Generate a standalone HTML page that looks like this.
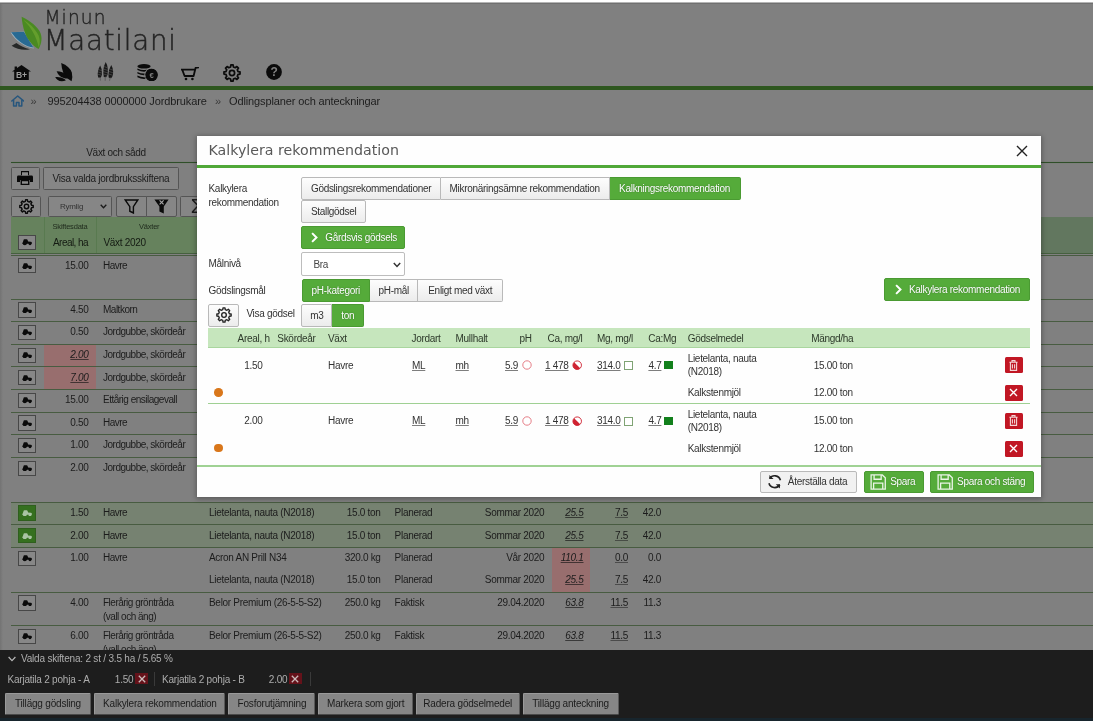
<!DOCTYPE html><html lang="sv"><head><meta charset="utf-8"><title>Minun Maatilani - Odlingsplaner och anteckningar</title><style>
html,body{margin:0;padding:0}
body{width:1093px;height:721px;overflow:hidden;position:relative;background:#808080;
 font-family:"Liberation Sans",sans-serif;font-size:10px;letter-spacing:-0.3px;color:#1c1c1c;line-height:13px}
*{box-sizing:border-box}
button{font:inherit;letter-spacing:inherit;margin:0;padding:0}
.abs{position:absolute}
svg.ic{display:block}
#topstrip{position:absolute;left:0;top:0;width:1093px;height:4px;background:linear-gradient(#fff 0,#fff 2px,#b4b4b4 2.5px,#6c6c6c 3px,#747474 4px)}
#ledge{position:absolute;left:0;top:4px;width:2.5px;height:646px;background:linear-gradient(90deg,#737373,#808080)}
#logo{position:absolute;left:0;top:0;width:200px;height:60px}
#logo .t1{position:absolute;left:44.4px;top:6.9px;font-family:"DejaVu Sans","Liberation Sans",sans-serif;font-weight:200;font-size:18.6px;line-height:22px;letter-spacing:1.15px;color:#242424;-webkit-text-stroke:0.35px #242424}
#logo .t2{position:absolute;left:43.7px;top:24.9px;font-family:"DejaVu Sans","Liberation Sans",sans-serif;font-weight:200;font-size:27.6px;line-height:32px;letter-spacing:.8px;color:#242424;-webkit-text-stroke:0.45px #242424}
#mainnav{position:absolute;left:0;top:60px;width:300px;height:24px}
#mainnav a{position:absolute;display:block}
#gline{position:absolute;left:0;top:86.4px;width:1093px;height:3.2px;background:#2e571f}
#crumbs{position:absolute;left:0;top:94px;height:14px;width:600px;font-size:11px;line-height:14px;letter-spacing:-0.12px;color:#1d1d1d;white-space:nowrap}
#crumbs span,#crumbs a{position:absolute;top:0}
#tabline{position:absolute;left:11px;top:162px;width:1082px;height:1px;background:#2f4f29;box-shadow:0 0 1px rgba(70,110,60,.6)}
#tab1{position:absolute;left:11px;top:146px;width:186px;height:16px;text-align:center;line-height:14px;font-size:10px;letter-spacing:-0.3px;padding-left:24px}
.bbtn{position:absolute;background:#868686;border:1px solid #555;border-radius:1.5px;color:#1c1c1c;display:flex;align-items:center;justify-content:center;white-space:nowrap}
#ghead{position:absolute;left:11px;top:217.3px;width:1082px;height:37.2px;background:linear-gradient(90deg,#66825d 0,#66825d 300px,#62775f 300px);border-bottom:1px solid #46603f}
#ghead .vl{position:absolute;top:0;width:1px;height:36px;background:#597a50}
#ghead .sm{position:absolute;top:4.6px;font-size:7.5px;line-height:10px;letter-spacing:-0.2px;color:#1f2a1c;text-align:center}
#ghead .lb{position:absolute;top:18.5px;line-height:13px;color:#141a12}
.row{position:absolute;left:11px;width:1082px;border-top:1px solid #485c41}
.row.sel{background:#768271}
.row span.c{position:absolute;white-space:nowrap;line-height:13px}
.row .pink{position:absolute;background:#986e6e}
.trb{position:absolute;left:7px;top:2.8px;width:17.6px;height:15.2px;border:1px solid #474747;background:#878787;display:flex;align-items:center;justify-content:center}
.trb.sel{background:#35701f;border-color:#2f5f1e}
.it{font-style:italic;text-decoration:underline;text-decoration-thickness:1px;text-decoration-color:rgba(20,20,20,.65);text-underline-offset:1px}
.ul{text-decoration:underline;text-decoration-thickness:1px;text-decoration-color:rgba(40,40,40,.6)}
#bbar{position:absolute;left:0;top:650.2px;width:1093px;height:71px;background:#1d1d1d;color:#adadad}
#bbar .strip{position:absolute;left:0;top:67.5px;width:1093px;height:4px;background:#17252d}
#bbar .l1{position:absolute;left:21px;top:2px;line-height:13px;white-space:nowrap;letter-spacing:-0.2px}
#bbar span.c{position:absolute;white-space:nowrap;line-height:13px;top:22.5px;letter-spacing:-0.22px}
#bbar .xb{position:absolute;top:22.6px;width:12.6px;height:11.6px;background:#65121a;display:flex;align-items:center;justify-content:center}
#bbar .sep{position:absolute;top:21.5px;width:1px;height:14px;background:#3a3a3a}
#bbar .bbtn{top:42.4px;height:22.8px;background:#868686;border-color:#9a9a9a #5a5a5a #4a4a4a #9a9a9a}
/* modal */
#shadow{position:absolute;left:197px;top:136px;width:844px;height:361px;box-shadow:0 1px 5px 1px rgba(0,0,0,.3)}
#modal{position:absolute;left:197px;top:136px;width:844px;height:361px;background:#fefefe;color:#333}
#modal h2{position:absolute;left:11.5px;top:5px;margin:0;font-family:"DejaVu Sans","Liberation Sans",sans-serif;font-weight:400;font-size:14.2px;line-height:18px;letter-spacing:0;color:#585858;white-space:nowrap}
#mline{position:absolute;left:0;top:29px;width:844px;height:3px;background:#50a838}
#mclose{position:absolute;left:819.2px;top:9px;width:12px;height:12px}
.lbl{position:absolute;left:11.5px;white-space:nowrap;line-height:13.4px}
.mb{position:absolute;height:22.4px;border:1px solid #b9b9b9;background:linear-gradient(#fdfdfd,#ececec);color:#333;display:flex;align-items:center;justify-content:center;white-space:nowrap;border-radius:2px}
.mb.g{background:#55ab3a;border-color:#4a9a32;color:#fff;text-shadow:0 0 1.5px rgba(0,40,0,.45)}
.mb.l{border-radius:2px 0 0 2px}
.mb.m{border-radius:0;border-left:0}
.mb.r{border-radius:0 2px 2px 0;border-left:0}
#msel{position:absolute;left:104.4px;top:116.4px;width:104px;height:23.2px;border:1px solid #bdbdbd;border-radius:2px;background:#fff}
#mth{position:absolute;left:11px;top:192px;width:822px;height:20px;background:#c6e6bd;border-bottom:1px solid #a9d69e}
#mth span{position:absolute;top:3.6px;line-height:13px;white-space:nowrap;color:#2e3a2b}
.mrow{position:absolute;left:11px;width:822px}
.mrow span.c{position:absolute;white-space:nowrap;line-height:13px}
.mrow .dot{position:absolute;left:6.4px;width:8.6px;height:8.6px;border-radius:50%;background:#d9771b}
.rb{position:absolute;left:796.6px;width:18.4px;height:16px;background:#c11724;border-radius:1.5px;display:flex;align-items:center;justify-content:center}
.msep{position:absolute;height:1px;background:#9fd093}
.ind{position:absolute}
</style></head><body>
<div id="topstrip"></div><div id="ledge"></div>
<div id="logo">
<svg class="abs" style="left:9px;top:14px" width="36" height="40" viewBox="0 0 36 40">
 <path d="M2.6 31.8 L7.4 28.9 C11 32 16 34 21 35.2 C15 36.6 8 35.6 2.6 31.8Z" fill="#262828"/>
 <path d="M1.6 18.4 L15.4 17.6 L25 34.6 C17 33.4 8.6 28.4 3.6 21.6Z" fill="#9fb4bf"/>
 <path d="M2.2 18.3 L15 17.8 L24.4 33.6 C17 32.6 9.4 27.8 4.6 21.2Z" fill="#286a93"/>
 <path d="M12.6 2.7 C18 5 26 10 30.5 17 C34 23 32.5 30 29.6 34.9 C24 32 18.5 26 16 19 C13.8 13 13 7 12.6 2.7Z" fill="#4a8a22"/>
 <path d="M14 5.4 C22 13 27.4 22 29.8 33.8 C31.2 29 31 25 29.6 21.4 C26 14 20 9 14 5.4Z" fill="#6aa330" opacity=".8"/>
</svg>
<div class="t1">Minun</div><div class="t2">Maatilani</div></div>
<nav id="mainnav">
<a style="left:12px;top:5px"><svg class="ic" width="19" height="15.2" viewBox="0 0 19 15.2"><path d="M9.5 0 L19 6.6 L16.8 6.6 L16.8 15.2 L2.2 15.2 L2.2 6.6 L0 6.6 L2.6 4.8 L2.6 1.6 L5 1.6 L5 3.1 Z" fill="#0b0b0b"/><text x="9.3" y="13" font-family="Liberation Sans, sans-serif" font-weight="bold" font-size="8.6" letter-spacing="-0.4" text-anchor="middle" fill="#9c9c9c">B+</text></svg></a>
<a style="left:54.6px;top:3.4px"><svg class="ic" width="18" height="18.6" viewBox="0 0 18 18.6"><path d="M6.2 0 Q14.8 3.4 16.8 9.6 Q17.9 13.6 16.6 18.2 Q10.4 14.8 8.2 9.4 Q6.6 5.2 6.2 0Z" fill="#0b0b0b"/><path d="M1.6 8.2 Q8 8.4 11.4 12.2 Q12.6 13.8 13 15.6 Q7.4 15.6 4.6 12.8 Q2.6 10.8 1.6 8.2Z" fill="#0b0b0b"/><path d="M0.2 14 Q5.4 13.4 9 15.8 Q10.2 16.6 10.8 17.6 Q5.6 19.4 2.4 16.8 Q1 15.6 0.2 14Z" fill="#0b0b0b"/></svg></a>
<a style="left:97px;top:2.4px"><svg class="ic" width="17" height="19" viewBox="0 0 17 19"><g fill="#181818"><path d="M3.2 3.6 Q5.6 8 4.8 13.6 L3.6 15.8 L1.2 15.4 Q-.4 9 3.2 3.6Z"/><path d="M8.7 0 Q11.6 5 10.6 12.8 L9.2 15.2 L6.8 15 Q5.2 7 8.7 0Z"/><path d="M14.3 3 Q17.2 8 15.6 14 L14.2 16.2 L11.8 15.8 Q10.6 9 14.3 3Z"/></g><g stroke="#555" stroke-width=".8" fill="none"><path d="M3 15 L3.4 18.6"/><path d="M8.2 14.6 L8.2 18.8"/><path d="M13.2 15.4 L12.6 18.8"/></g><g stroke="#707070" stroke-width=".45"><path d="M1.2 7.4 L5 8.8 M.8 9.8 L5 11.2 M.9 12.2 L4.8 13.4 M6.6 4.4 L10.6 5.8 M6.2 7 L10.8 8.4 M6.2 9.6 L10.8 10.8 M6.4 12 L10.6 13.2 M12.2 6.8 L16 8.2 M11.8 9.4 L16 10.8 M11.8 12 L15.6 13.2"/></g></svg></a>
<a style="left:137px;top:3.6px"><svg class="ic" width="21" height="17.4" viewBox="0 0 21 17.4"><g fill="#0b0b0b"><ellipse cx="7" cy="2.3" rx="6.6" ry="2.3"/><path d="M.4 4.4 Q7 7.6 13.6 4.4 L13.6 6 Q7 9.4 .4 6Z"/><path d="M.4 8 Q7 11.2 13.6 8 L13.6 9.6 Q7 13 .4 9.6Z"/><path d="M.4 11.6 Q7 14.8 13.6 11.6 L13.6 13.2 Q7 16.6 .4 13.2Z"/><circle cx="14.6" cy="11" r="6.4"/></g><circle cx="14.6" cy="11" r="6.9" fill="none" stroke="#808080" stroke-width=".9" /><text x="14.6" y="13.8" font-family="Liberation Sans, sans-serif" font-weight="bold" font-size="7.8" text-anchor="middle" fill="#7c7c7c">€</text></svg></a>
<a style="left:181px;top:6.6px"><svg class="ic" width="18" height="14" viewBox="0 0 18 14"><path d="M.6 2.6 L13.6 2.6 M1.2 2.6 L3.6 9 L12.6 9 L14.6 .8 L17.6 .4" fill="none" stroke="#0b0b0b" stroke-width="1.8" stroke-linejoin="round" stroke-linecap="round"/><circle cx="5" cy="12" r="1.3" fill="#0b0b0b"/><circle cx="11.4" cy="12" r="1.3" fill="#0b0b0b"/></svg></a>
<a style="left:222.8px;top:4px"><svg class="ic" width="18" height="18" viewBox="0 0 20 20"><path d="M18.92 8.77 L18.92 11.23 L16.72 11.54 L15.85 13.66 L17.18 15.43 L15.43 17.18 L13.66 15.85 L11.54 16.72 L11.23 18.92 L8.77 18.92 L8.46 16.72 L6.34 15.85 L4.57 17.18 L2.82 15.43 L4.15 13.66 L3.28 11.54 L1.08 11.23 L1.08 8.77 L3.28 8.46 L4.15 6.34 L2.82 4.57 L4.57 2.82 L6.34 4.15 L8.46 3.28 L8.77 1.08 L11.23 1.08 L11.54 3.28 L13.66 4.15 L15.43 2.82 L17.18 4.57 L15.85 6.34 L16.72 8.46Z" fill="none" stroke="#0b0b0b" stroke-width="1.9" stroke-linejoin="round"/><circle cx="10" cy="10" r="2.9" fill="none" stroke="#0b0b0b" stroke-width="1.9"/></svg></a>
<a style="left:266px;top:4.4px"><svg class="ic" width="16" height="16" viewBox="0 0 16 16"><circle cx="8" cy="8" r="7.9" fill="#0b0b0b"/><text x="8" y="12.4" font-family="Liberation Sans, sans-serif" font-weight="bold" font-size="12" text-anchor="middle" fill="#808080">?</text></svg></a>
</nav>
<div id="gline"></div>
<div id="crumbs">
<a style="left:11px;top:.5px"><svg class="ic" width="13.4" height="12" viewBox="0 0 13.4 12"><path d="M.8 6 L6.7 1 L12.6 6 M2.6 5.2 L2.6 11 L5.4 11 L5.4 7.6 L8 7.6 L8 11 L10.8 11 L10.8 5.2" fill="none" stroke="#27567d" stroke-width="1.5" stroke-linejoin="round" stroke-linecap="round"/></svg></a>
<span style="left:30.5px;color:#3a3a3a">»</span>
<span style="left:47.5px">995204438 0000000 Jordbrukare</span>
<span style="left:215px;color:#3a3a3a">»</span>
<span style="left:229px">Odlingsplaner och anteckningar</span>
</div>
<div id="tab1">Växt och sådd</div><div id="tabline"></div>
<button class="bbtn" style="left:11.4px;top:166.6px;width:28.8px;height:23px"><svg class="ic" width="16" height="14" viewBox="0 0 16 14" style="margin-left:-1px"><path d="M4 0 H12 V4 H4Z M1.4 4.6 H14.6 Q16 4.6 16 6 V11 H13 V9 H3 V11 H0 V6 Q0 4.6 1.4 4.6Z" fill="#0a0a0a"/><path d="M3.6 8.6 H12.4 V14 H3.6Z" fill="#0a0a0a"/><path d="M5 1.2 H11 V4.6 H5Z M5 10.2 H11 V12.8 H5Z" fill="#8c8c8c"/></svg></button>
<button class="bbtn" style="left:43.4px;top:166.6px;width:135.2px;height:23px;font-family:inherit;font-size:10px;letter-spacing:-0.27px">Visa valda jordbruksskiftena</button>
<button class="bbtn" style="left:11.4px;top:196.2px;width:29.8px;height:20.4px"><svg class="ic" width="15" height="15" viewBox="0 0 20 20"><path d="M18.92 8.77 L18.92 11.23 L16.72 11.54 L15.85 13.66 L17.18 15.43 L15.43 17.18 L13.66 15.85 L11.54 16.72 L11.23 18.92 L8.77 18.92 L8.46 16.72 L6.34 15.85 L4.57 17.18 L2.82 15.43 L4.15 13.66 L3.28 11.54 L1.08 11.23 L1.08 8.77 L3.28 8.46 L4.15 6.34 L2.82 4.57 L4.57 2.82 L6.34 4.15 L8.46 3.28 L8.77 1.08 L11.23 1.08 L11.54 3.28 L13.66 4.15 L15.43 2.82 L17.18 4.57 L15.85 6.34 L16.72 8.46Z" fill="none" stroke="#0a0a0a" stroke-width="1.9" stroke-linejoin="round"/><circle cx="10" cy="10" r="2.9" fill="none" stroke="#0a0a0a" stroke-width="1.9"/></svg></button>
<div class="bbtn" style="left:48.4px;top:196.2px;width:63.2px;height:20.4px;justify-content:flex-start;padding-left:10.5px;font-size:8px;letter-spacing:-0.2px;color:#333">Rymlig<svg class="abs" style="left:51px;top:6.4px" width="7" height="5" viewBox="0 0 7 5"><path d="M.7 .8 L3.5 3.8 L6.3 .8" fill="none" stroke="#1a1a1a" stroke-width="1.3"/></svg></div>
<button class="bbtn" style="left:116px;top:196.2px;width:30.6px;height:20.4px;border-radius:2px 0 0 2px"><svg class="ic" width="15" height="15" viewBox="0 0 15 15"><path d="M1.2 1 H13.8 L9.4 7.6 V14 L5.8 12.2 V7.6 Z" fill="none" stroke="#0a0a0a" stroke-width="1.4" stroke-linejoin="miter"/></svg></button>
<button class="bbtn" style="left:145.6px;top:196.2px;width:31px;height:20.4px;border-radius:0 2px 2px 0"><svg class="ic" width="15" height="15" viewBox="0 0 15 15"><path d="M.4 .4 H14.6 L9.8 7.6 V14.6 L5.4 12.4 V7.6 Z" fill="#0a0a0a"/><path d="M5.6 1.4 L9.6 5.4 M9.6 1.4 L5.6 5.4" stroke="#a8a8a8" stroke-width="1.1"/></svg></button>
<button class="bbtn" style="left:180.4px;top:196.2px;width:33px;height:20.4px;font-family:inherit;font-size:20px;letter-spacing:0;line-height:18px;padding:0">Σ</button>
<div id="ghead">
<i class="vl" style="left:32.6px"></i><i class="vl" style="left:85.4px"></i>
<span class="trb" style="left:7px;top:17.6px;height:15.4px"><svg class="ic" width="10.4" height="6.4" viewBox="0 0 20.8 12.8"><path d="M2 6.4 L3.2 1.6 Q3.5 .4 4.8 .4 L9.4 .4 Q10.6 .4 11 1.6 L12.2 5 L17.6 5.6 Q19.8 6 19.8 7.8 L19.8 9.6 L1 9.6 L1 7.4 Q1 6.4 2 6.4Z" fill="#0a0a0a"/><circle cx="5.6" cy="8.4" r="4.2" fill="#0a0a0a"/><circle cx="16" cy="9.6" r="3" fill="#0a0a0a"/></svg></span>
<span class="sm" style="left:33px;width:52px">Skiftesdata</span>
<span class="sm" style="left:88.2px;width:100px">Växter</span>
<span class="lb" style="left:42px;letter-spacing:-0.55px">Areal, ha</span>
<span class="lb" style="left:92.4px">Växt 2020</span>
</div>
<div class="row" style="top:254.5px;height:44.1px">
<span class="trb"><svg class="ic" width="10.4" height="6.4" viewBox="0 0 20.8 12.8"><path d="M2 6.4 L3.2 1.6 Q3.5 .4 4.8 .4 L9.4 .4 Q10.6 .4 11 1.6 L12.2 5 L17.6 5.6 Q19.8 6 19.8 7.8 L19.8 9.6 L1 9.6 L1 7.4 Q1 6.4 2 6.4Z" fill="#0a0a0a"/><circle cx="5.6" cy="8.4" r="4.2" fill="#0a0a0a"/><circle cx="16" cy="9.6" r="3" fill="#0a0a0a"/></svg></span>
<span class="c" style="right:1004.4px;top:3.2px">15.00</span><span class="c" style="left:92px;top:3.2px;letter-spacing:-0.5px">Havre</span>
</div>
<div class="row" style="top:298.6px;height:22.6px">
<span class="trb"><svg class="ic" width="10.4" height="6.4" viewBox="0 0 20.8 12.8"><path d="M2 6.4 L3.2 1.6 Q3.5 .4 4.8 .4 L9.4 .4 Q10.6 .4 11 1.6 L12.2 5 L17.6 5.6 Q19.8 6 19.8 7.8 L19.8 9.6 L1 9.6 L1 7.4 Q1 6.4 2 6.4Z" fill="#0a0a0a"/><circle cx="5.6" cy="8.4" r="4.2" fill="#0a0a0a"/><circle cx="16" cy="9.6" r="3" fill="#0a0a0a"/></svg></span>
<span class="c" style="right:1004.4px;top:3.2px">4.50</span><span class="c" style="left:92px;top:3.2px;letter-spacing:-0.5px">Maltkorn</span>
</div>
<div class="row" style="top:321.2px;height:22.6px">
<span class="trb"><svg class="ic" width="10.4" height="6.4" viewBox="0 0 20.8 12.8"><path d="M2 6.4 L3.2 1.6 Q3.5 .4 4.8 .4 L9.4 .4 Q10.6 .4 11 1.6 L12.2 5 L17.6 5.6 Q19.8 6 19.8 7.8 L19.8 9.6 L1 9.6 L1 7.4 Q1 6.4 2 6.4Z" fill="#0a0a0a"/><circle cx="5.6" cy="8.4" r="4.2" fill="#0a0a0a"/><circle cx="16" cy="9.6" r="3" fill="#0a0a0a"/></svg></span>
<span class="c" style="right:1004.4px;top:3.2px">0.50</span><span class="c" style="left:92px;top:3.2px;letter-spacing:-0.5px">Jordgubbe, skördeår</span>
</div>
<div class="row" style="top:343.8px;height:22.6px">
<span class="trb"><svg class="ic" width="10.4" height="6.4" viewBox="0 0 20.8 12.8"><path d="M2 6.4 L3.2 1.6 Q3.5 .4 4.8 .4 L9.4 .4 Q10.6 .4 11 1.6 L12.2 5 L17.6 5.6 Q19.8 6 19.8 7.8 L19.8 9.6 L1 9.6 L1 7.4 Q1 6.4 2 6.4Z" fill="#0a0a0a"/><circle cx="5.6" cy="8.4" r="4.2" fill="#0a0a0a"/><circle cx="16" cy="9.6" r="3" fill="#0a0a0a"/></svg></span>
<i class="pink" style="left:32.6px;top:0;width:52.6px;height:100%"></i><span class="c it" style="right:1004.4px;top:3.2px">2.00</span><span class="c" style="left:92px;top:3.2px;letter-spacing:-0.5px">Jordgubbe, skördeår</span>
</div>
<div class="row" style="top:366.4px;height:22.6px">
<span class="trb"><svg class="ic" width="10.4" height="6.4" viewBox="0 0 20.8 12.8"><path d="M2 6.4 L3.2 1.6 Q3.5 .4 4.8 .4 L9.4 .4 Q10.6 .4 11 1.6 L12.2 5 L17.6 5.6 Q19.8 6 19.8 7.8 L19.8 9.6 L1 9.6 L1 7.4 Q1 6.4 2 6.4Z" fill="#0a0a0a"/><circle cx="5.6" cy="8.4" r="4.2" fill="#0a0a0a"/><circle cx="16" cy="9.6" r="3" fill="#0a0a0a"/></svg></span>
<i class="pink" style="left:32.6px;top:0;width:52.6px;height:100%"></i><span class="c it" style="right:1004.4px;top:3.2px">7.00</span><span class="c" style="left:92px;top:3.2px;letter-spacing:-0.5px">Jordgubbe, skördeår</span>
</div>
<div class="row" style="top:389.0px;height:22.6px">
<span class="trb"><svg class="ic" width="10.4" height="6.4" viewBox="0 0 20.8 12.8"><path d="M2 6.4 L3.2 1.6 Q3.5 .4 4.8 .4 L9.4 .4 Q10.6 .4 11 1.6 L12.2 5 L17.6 5.6 Q19.8 6 19.8 7.8 L19.8 9.6 L1 9.6 L1 7.4 Q1 6.4 2 6.4Z" fill="#0a0a0a"/><circle cx="5.6" cy="8.4" r="4.2" fill="#0a0a0a"/><circle cx="16" cy="9.6" r="3" fill="#0a0a0a"/></svg></span>
<span class="c" style="right:1004.4px;top:3.2px">15.00</span><span class="c" style="left:92px;top:3.2px;letter-spacing:-0.5px">Ettårig ensilagevall</span>
</div>
<div class="row" style="top:411.6px;height:22.6px">
<span class="trb"><svg class="ic" width="10.4" height="6.4" viewBox="0 0 20.8 12.8"><path d="M2 6.4 L3.2 1.6 Q3.5 .4 4.8 .4 L9.4 .4 Q10.6 .4 11 1.6 L12.2 5 L17.6 5.6 Q19.8 6 19.8 7.8 L19.8 9.6 L1 9.6 L1 7.4 Q1 6.4 2 6.4Z" fill="#0a0a0a"/><circle cx="5.6" cy="8.4" r="4.2" fill="#0a0a0a"/><circle cx="16" cy="9.6" r="3" fill="#0a0a0a"/></svg></span>
<span class="c" style="right:1004.4px;top:3.2px">0.50</span><span class="c" style="left:92px;top:3.2px;letter-spacing:-0.5px">Havre</span>
</div>
<div class="row" style="top:434.2px;height:22.6px">
<span class="trb"><svg class="ic" width="10.4" height="6.4" viewBox="0 0 20.8 12.8"><path d="M2 6.4 L3.2 1.6 Q3.5 .4 4.8 .4 L9.4 .4 Q10.6 .4 11 1.6 L12.2 5 L17.6 5.6 Q19.8 6 19.8 7.8 L19.8 9.6 L1 9.6 L1 7.4 Q1 6.4 2 6.4Z" fill="#0a0a0a"/><circle cx="5.6" cy="8.4" r="4.2" fill="#0a0a0a"/><circle cx="16" cy="9.6" r="3" fill="#0a0a0a"/></svg></span>
<span class="c" style="right:1004.4px;top:3.2px">1.00</span><span class="c" style="left:92px;top:3.2px;letter-spacing:-0.5px">Jordgubbe, skördeår</span>
</div>
<div class="row" style="top:456.8px;height:44.8px">
<span class="trb"><svg class="ic" width="10.4" height="6.4" viewBox="0 0 20.8 12.8"><path d="M2 6.4 L3.2 1.6 Q3.5 .4 4.8 .4 L9.4 .4 Q10.6 .4 11 1.6 L12.2 5 L17.6 5.6 Q19.8 6 19.8 7.8 L19.8 9.6 L1 9.6 L1 7.4 Q1 6.4 2 6.4Z" fill="#0a0a0a"/><circle cx="5.6" cy="8.4" r="4.2" fill="#0a0a0a"/><circle cx="16" cy="9.6" r="3" fill="#0a0a0a"/></svg></span>
<span class="c" style="right:1004.4px;top:3.2px">2.00</span><span class="c" style="left:92px;top:3.2px;letter-spacing:-0.5px">Jordgubbe, skördeår</span>
</div>
<div class="row sel" style="top:501.6px;height:22.8px">
<span class="trb sel"><svg class="ic" width="10.4" height="6.4" viewBox="0 0 20.8 12.8"><path d="M2 6.4 L3.2 1.6 Q3.5 .4 4.8 .4 L9.4 .4 Q10.6 .4 11 1.6 L12.2 5 L17.6 5.6 Q19.8 6 19.8 7.8 L19.8 9.6 L1 9.6 L1 7.4 Q1 6.4 2 6.4Z" fill="#a9c4a3"/><circle cx="5.6" cy="8.4" r="4.2" fill="#a9c4a3"/><circle cx="16" cy="9.6" r="3" fill="#a9c4a3"/></svg></span>
<span class="c" style="right:1004.4px;top:3.2px">1.50</span><span class="c" style="left:92px;top:3.2px;letter-spacing:-0.5px">Havre</span><span class="c" style="left:198px;top:3.2px">Lietelanta, nauta (N2018)</span><span class="c" style="right:712.4px;top:3.2px">15.0 ton</span><span class="c" style="left:383.6px;top:3.2px">Planerad</span><span class="c" style="right:548.7px;top:3.2px">Sommar 2020</span><span class="c it" style="right:509.5px;top:3.2px">25.5</span><span class="c ul" style="right:465px;top:3.2px">7.5</span><span class="c" style="right:432px;top:3.2px">42.0</span>
</div>
<div class="row sel" style="top:524.4px;height:22.8px">
<span class="trb sel"><svg class="ic" width="10.4" height="6.4" viewBox="0 0 20.8 12.8"><path d="M2 6.4 L3.2 1.6 Q3.5 .4 4.8 .4 L9.4 .4 Q10.6 .4 11 1.6 L12.2 5 L17.6 5.6 Q19.8 6 19.8 7.8 L19.8 9.6 L1 9.6 L1 7.4 Q1 6.4 2 6.4Z" fill="#a9c4a3"/><circle cx="5.6" cy="8.4" r="4.2" fill="#a9c4a3"/><circle cx="16" cy="9.6" r="3" fill="#a9c4a3"/></svg></span>
<span class="c" style="right:1004.4px;top:3.2px">2.00</span><span class="c" style="left:92px;top:3.2px;letter-spacing:-0.5px">Havre</span><span class="c" style="left:198px;top:3.2px">Lietelanta, nauta (N2018)</span><span class="c" style="right:712.4px;top:3.2px">15.0 ton</span><span class="c" style="left:383.6px;top:3.2px">Planerad</span><span class="c" style="right:548.7px;top:3.2px">Sommar 2020</span><span class="c it" style="right:509.5px;top:3.2px">25.5</span><span class="c ul" style="right:465px;top:3.2px">7.5</span><span class="c" style="right:432px;top:3.2px">42.0</span>
</div>
<div class="row" style="top:547.2px;height:44.4px">
<span class="trb"><svg class="ic" width="10.4" height="6.4" viewBox="0 0 20.8 12.8"><path d="M2 6.4 L3.2 1.6 Q3.5 .4 4.8 .4 L9.4 .4 Q10.6 .4 11 1.6 L12.2 5 L17.6 5.6 Q19.8 6 19.8 7.8 L19.8 9.6 L1 9.6 L1 7.4 Q1 6.4 2 6.4Z" fill="#0a0a0a"/><circle cx="5.6" cy="8.4" r="4.2" fill="#0a0a0a"/><circle cx="16" cy="9.6" r="3" fill="#0a0a0a"/></svg></span>
<span class="c" style="right:1004.4px;top:3.2px">1.00</span><span class="c" style="left:92px;top:3.2px;letter-spacing:-0.5px">Havre</span><i class="pink" style="left:541px;top:0px;width:38.4px;height:22.6px"></i><span class="c" style="left:198px;top:3.2px">Acron AN Prill N34</span><span class="c" style="right:712.4px;top:3.2px">320.0 kg</span><span class="c" style="left:383.6px;top:3.2px">Planerad</span><span class="c" style="right:548.7px;top:3.2px">Vår 2020</span><span class="c it" style="right:509.5px;top:3.2px">110.1</span><span class="c ul" style="right:465px;top:3.2px">0.0</span><span class="c" style="right:432px;top:3.2px">0.0</span><i class="pink" style="left:541px;top:22.6px;width:38.4px;height:22.6px"></i><span class="c" style="left:198px;top:25.2px">Lietelanta, nauta (N2018)</span><span class="c" style="right:712.4px;top:25.2px">15.0 ton</span><span class="c" style="left:383.6px;top:25.2px">Planerad</span><span class="c" style="right:548.7px;top:25.2px">Sommar 2020</span><span class="c it" style="right:509.5px;top:25.2px">25.5</span><span class="c ul" style="right:465px;top:25.2px">7.5</span><span class="c" style="right:432px;top:25.2px">42.0</span>
</div>
<div class="row" style="top:591.6px;height:33.7px">
<span class="trb"><svg class="ic" width="10.4" height="6.4" viewBox="0 0 20.8 12.8"><path d="M2 6.4 L3.2 1.6 Q3.5 .4 4.8 .4 L9.4 .4 Q10.6 .4 11 1.6 L12.2 5 L17.6 5.6 Q19.8 6 19.8 7.8 L19.8 9.6 L1 9.6 L1 7.4 Q1 6.4 2 6.4Z" fill="#0a0a0a"/><circle cx="5.6" cy="8.4" r="4.2" fill="#0a0a0a"/><circle cx="16" cy="9.6" r="3" fill="#0a0a0a"/></svg></span>
<span class="c" style="right:1004.4px;top:3.2px">4.00</span><span class="c" style="left:92px;top:3.2px;letter-spacing:-0.5px">Flerårig gröntråda</span><span class="c" style="left:92px;top:17.1px;letter-spacing:-0.5px">(vall och äng)</span><span class="c" style="left:198px;top:3.2px">Belor Premium (26-5-5-S2)</span><span class="c" style="right:712.4px;top:3.2px">250.0 kg</span><span class="c" style="left:383.6px;top:3.2px">Faktisk</span><span class="c" style="right:548.7px;top:3.2px">29.04.2020</span><span class="c it" style="right:509.5px;top:3.2px">63.8</span><span class="c ul" style="right:465px;top:3.2px">11.5</span><span class="c" style="right:432px;top:3.2px">11.3</span>
</div>
<div class="row" style="top:625.3px;height:30px">
<span class="trb"><svg class="ic" width="10.4" height="6.4" viewBox="0 0 20.8 12.8"><path d="M2 6.4 L3.2 1.6 Q3.5 .4 4.8 .4 L9.4 .4 Q10.6 .4 11 1.6 L12.2 5 L17.6 5.6 Q19.8 6 19.8 7.8 L19.8 9.6 L1 9.6 L1 7.4 Q1 6.4 2 6.4Z" fill="#0a0a0a"/><circle cx="5.6" cy="8.4" r="4.2" fill="#0a0a0a"/><circle cx="16" cy="9.6" r="3" fill="#0a0a0a"/></svg></span>
<span class="c" style="right:1004.4px;top:3.2px">6.00</span><span class="c" style="left:92px;top:3.2px;letter-spacing:-0.5px">Flerårig gröntråda</span><span class="c" style="left:92px;top:17.1px;letter-spacing:-0.5px">(vall och äng)</span><span class="c" style="left:198px;top:3.2px">Belor Premium (26-5-5-S2)</span><span class="c" style="right:712.4px;top:3.2px">250.0 kg</span><span class="c" style="left:383.6px;top:3.2px">Faktisk</span><span class="c" style="right:548.7px;top:3.2px">29.04.2020</span><span class="c it" style="right:509.5px;top:3.2px">63.8</span><span class="c ul" style="right:465px;top:3.2px">11.5</span><span class="c" style="right:432px;top:3.2px">11.3</span>
</div>
<div id="bbar">
<svg class="abs" style="left:8px;top:5.4px" width="8" height="6" viewBox="0 0 8 6"><path d="M.6 1 L4 4.6 L7.4 1" fill="none" stroke="#b9b9b9" stroke-width="1.2"/></svg>
<div class="l1">Valda skiftena: 2 st / 3.5 ha / 5.65 %</div>
<span class="c" style="left:7.5px">Karjatila 2 pohja - A</span><span class="c" style="right:959.6px">1.50</span>
<span class="xb" style="left:135.4px"><svg class="ic" width="8" height="8" viewBox="0 0 8 8"><path d="M.8 .8 L7.2 7.2 M7.2 .8 L.8 7.2" stroke="#cbbcbc" stroke-width="1.3"/></svg></span><i class="sep" style="left:154.4px"></i>
<span class="c" style="left:162px">Karjatila 2 pohja - B</span><span class="c" style="right:805.6px">2.00</span>
<span class="xb" style="left:289.2px"><svg class="ic" width="8" height="8" viewBox="0 0 8 8"><path d="M.8 .8 L7.2 7.2 M7.2 .8 L.8 7.2" stroke="#cbbcbc" stroke-width="1.3"/></svg></span><i class="sep" style="left:309.8px"></i>
<button class="bbtn" style="left:5px;width:86.0px;letter-spacing:-0.2px">Tillägg gödsling</button>
<button class="bbtn" style="left:94.4px;width:131.0px;letter-spacing:-0.2px">Kalkylera rekommendation</button>
<button class="bbtn" style="left:228.4px;width:87.1px;letter-spacing:-0.2px">Fosforutjämning</button>
<button class="bbtn" style="left:318.4px;width:94.6px;letter-spacing:-0.2px">Markera som gjort</button>
<button class="bbtn" style="left:415.6px;width:104.2px;letter-spacing:-0.2px">Radera gödselmedel</button>
<button class="bbtn" style="left:522.7px;width:95.9px;letter-spacing:-0.2px">Tillägg anteckning</button>
<div class="strip"></div></div>
<div id="shadow"></div><div id="modal">
<h2>Kalkylera rekommendation</h2>
<svg id="mclose" viewBox="0 0 12 12"><path d="M1 1 L11 11 M11 1 L1 11" stroke="#222" stroke-width="1.4"/></svg>
<div id="mline"></div>
<div class="lbl" style="top:46.3px">Kalkylera<br>rekommendation</div>
<button class="mb l" style="left:104.4px;top:41.4px;width:139.4px;font:inherit">Gödslingsrekommendationer</button>
<button class="mb m" style="left:243.8px;top:41.4px;width:168.8px;font:inherit">Mikronäringsämne rekommendation</button>
<button class="mb g r" style="left:412.6px;top:41.4px;width:131px;font:inherit">Kalkningsrekommendation</button>
<button class="mb" style="left:104.4px;top:64.2px;width:64.6px;font:inherit">Stallgödsel</button>
<button class="mb g" style="left:104.4px;top:90.3px;width:104px;font:inherit"><svg class="ic" width="6.6" height="11" viewBox="0 0 6 10" style="margin-right:7.4px;margin-left:1.5px"><path d="M1 1 L5 5 L1 9" fill="none" stroke="#fff" stroke-width="1.8"/></svg>Gårdsvis gödsels</button>
<div class="lbl" style="top:121px">Målnivå</div>
<div id="msel"><span class="abs" style="left:11px;top:4.6px;line-height:13px;color:#444">Bra</span><svg class="abs" style="left:90.6px;top:8.8px" width="8" height="6" viewBox="0 0 8 6"><path d="M.8 1 L4 4.4 L7.2 1" fill="none" stroke="#333" stroke-width="1.5"/></svg></div>
<div class="lbl" style="top:147.8px">Gödslingsmål</div>
<button class="mb g l" style="left:104.6px;top:143.4px;width:68.4px;font:inherit">pH-kategori</button>
<button class="mb m" style="left:173px;top:143.4px;width:48.4px;font:inherit">pH-mål</button>
<button class="mb r" style="left:221.4px;top:143.4px;width:84.6px;font:inherit">Enligt med växt</button>
<button class="mb g" style="left:686.6px;top:142px;width:146.4px;height:22.8px;font:inherit"><svg class="ic" width="6.6" height="11" viewBox="0 0 6 10" style="margin-right:7.4px;margin-left:1.5px"><path d="M1 1 L5 5 L1 9" fill="none" stroke="#fff" stroke-width="1.8"/></svg>Kalkylera rekommendation</button>
<button class="mb" style="left:11px;top:168.2px;width:31.4px"><svg class="ic" width="16" height="16" viewBox="0 0 20 20"><path d="M18.92 8.77 L18.92 11.23 L16.72 11.54 L15.85 13.66 L17.18 15.43 L15.43 17.18 L13.66 15.85 L11.54 16.72 L11.23 18.92 L8.77 18.92 L8.46 16.72 L6.34 15.85 L4.57 17.18 L2.82 15.43 L4.15 13.66 L3.28 11.54 L1.08 11.23 L1.08 8.77 L3.28 8.46 L4.15 6.34 L2.82 4.57 L4.57 2.82 L6.34 4.15 L8.46 3.28 L8.77 1.08 L11.23 1.08 L11.54 3.28 L13.66 4.15 L15.43 2.82 L17.18 4.57 L15.85 6.34 L16.72 8.46Z" fill="none" stroke="#222" stroke-width="1.7" stroke-linejoin="round"/><circle cx="10" cy="10" r="2.9" fill="none" stroke="#222" stroke-width="1.7"/></svg></button>
<div class="lbl" style="left:49.4px;top:171px">Visa gödsel</div>
<button class="mb l" style="left:104.4px;top:168.2px;width:30.8px;font:inherit">m3</button>
<button class="mb g r" style="left:135.2px;top:168.2px;width:32.2px;font:inherit">ton</button>
<div id="mth">
<span style="left:29.6px">Areal, h</span>
<span style="left:69.3px">Skördeår</span>
<span style="left:120px">Växt</span>
<span style="left:203.5px">Jordart</span>
<span style="left:247.5px">Mullhalt</span>
<span style="left:311.5px">pH</span>
<span style="left:339.6px">Ca, mg/l</span>
<span style="left:389px">Mg, mg/l</span>
<span style="left:440.3px">Ca:Mg</span>
<span style="left:479.7px">Gödselmedel</span>
<span style="left:603.2px">Mängd/ha</span>
</div>
<div class="mrow" style="top:211.7px;height:56px"><span class="c" style="left:36.3px;top:10.899999999999999px">1.50</span><span class="c" style="left:120px;top:10.899999999999999px">Havre</span><span class="c ul" style="left:204px;top:10.899999999999999px">ML</span><span class="c ul" style="left:247.5px;top:10.899999999999999px">mh</span><span class="c ul" style="left:297px;top:10.899999999999999px">5.9</span><svg class="ind" style="left:313.6px;top:12.799999999999999px" width="10" height="10" viewBox="0 0 10 10"><circle cx="5" cy="5" r="4.2" fill="#fff" stroke="#e0606b" stroke-width=".8"/></svg><span class="c ul" style="left:337px;top:10.899999999999999px">1 478</span><svg class="ind" style="left:364.4px;top:12.799999999999999px" width="10.4" height="10.4" viewBox="0 0 10 10"><circle cx="5" cy="5" r="4.1" fill="#fff" stroke="#cf2231" stroke-width=".9"/><path d="M2.1 2.1 A4.1 4.1 0 0 0 7.9 7.9 Z" fill="#cf2231"/></svg><span class="c ul" style="left:389px;top:10.899999999999999px">314.0</span><i class="ind" style="left:416.2px;top:13.399999999999999px;width:8.6px;height:8.6px;border:1px solid #7fa374;background:#fff"></i><span class="c ul" style="left:440.4px;top:10.899999999999999px">4.7</span><i class="ind" style="left:456.4px;top:13.399999999999999px;width:8.4px;height:8.4px;background:#12801c"></i><span class="c" style="left:479.7px;top:4.699999999999999px">Lietelanta, nauta</span><span class="c" style="left:479.7px;top:17.799999999999997px">(N2018)</span><span class="c" style="left:605.8px;top:10.899999999999999px">15.00 ton</span><span class="c" style="left:479.7px;top:38.4px">Kalkstenmjöl</span><span class="c" style="left:605.8px;top:38.4px">12.00 ton</span><i class="dot" style="top:40.3px"></i><span class="rb" style="top:9.399999999999999px"><svg class="ic" width="9" height="11" viewBox="0 0 9 11"><path d="M.4 2.2 H8.6 M3 2 V.6 H6 V2 M1.4 2.4 V10.4 H7.6 V2.4 M3.4 4.2 V8.6 M5.6 4.2 V8.6" fill="none" stroke="#f3d6d6" stroke-width="1.1"/></svg></span><span class="rb" style="top:37.0px"><svg class="ic" width="9" height="9" viewBox="0 0 9 9"><path d="M1 1 L8 8 M8 1 L1 8" stroke="#fff" stroke-width="1.4"/></svg></span></div>
<div class="msep" style="left:11px;top:267px;width:822px"></div>
<div class="mrow" style="top:267.6px;height:56px"><span class="c" style="left:36.3px;top:10.899999999999999px">2.00</span><span class="c" style="left:120px;top:10.899999999999999px">Havre</span><span class="c ul" style="left:204px;top:10.899999999999999px">ML</span><span class="c ul" style="left:247.5px;top:10.899999999999999px">mh</span><span class="c ul" style="left:297px;top:10.899999999999999px">5.9</span><svg class="ind" style="left:313.6px;top:12.799999999999999px" width="10" height="10" viewBox="0 0 10 10"><circle cx="5" cy="5" r="4.2" fill="#fff" stroke="#e0606b" stroke-width=".8"/></svg><span class="c ul" style="left:337px;top:10.899999999999999px">1 478</span><svg class="ind" style="left:364.4px;top:12.799999999999999px" width="10.4" height="10.4" viewBox="0 0 10 10"><circle cx="5" cy="5" r="4.1" fill="#fff" stroke="#cf2231" stroke-width=".9"/><path d="M2.1 2.1 A4.1 4.1 0 0 0 7.9 7.9 Z" fill="#cf2231"/></svg><span class="c ul" style="left:389px;top:10.899999999999999px">314.0</span><i class="ind" style="left:416.2px;top:13.399999999999999px;width:8.6px;height:8.6px;border:1px solid #7fa374;background:#fff"></i><span class="c ul" style="left:440.4px;top:10.899999999999999px">4.7</span><i class="ind" style="left:456.4px;top:13.399999999999999px;width:8.4px;height:8.4px;background:#12801c"></i><span class="c" style="left:479.7px;top:4.699999999999999px">Lietelanta, nauta</span><span class="c" style="left:479.7px;top:17.799999999999997px">(N2018)</span><span class="c" style="left:605.8px;top:10.899999999999999px">15.00 ton</span><span class="c" style="left:479.7px;top:38.4px">Kalkstenmjöl</span><span class="c" style="left:605.8px;top:38.4px">12.00 ton</span><i class="dot" style="top:40.3px"></i><span class="rb" style="top:9.399999999999999px"><svg class="ic" width="9" height="11" viewBox="0 0 9 11"><path d="M.4 2.2 H8.6 M3 2 V.6 H6 V2 M1.4 2.4 V10.4 H7.6 V2.4 M3.4 4.2 V8.6 M5.6 4.2 V8.6" fill="none" stroke="#f3d6d6" stroke-width="1.1"/></svg></span><span class="rb" style="top:37.0px"><svg class="ic" width="9" height="9" viewBox="0 0 9 9"><path d="M1 1 L8 8 M8 1 L1 8" stroke="#fff" stroke-width="1.4"/></svg></span></div>
<div class="msep" style="left:0;top:329.4px;width:844px;height:1.2px;background:#a0d294"></div>
<button class="mb" style="left:562.6px;top:334.6px;width:97.6px;height:22.2px;font:inherit;background:#f1f1f1"><svg class="ic" width="15.4" height="15.4" viewBox="0 0 14 14" style="margin-right:5px;margin-left:-2px"><path d="M12.2 5.6 A5.4 5.4 0 0 0 2.4 4.2 M1.8 8.4 A5.4 5.4 0 0 0 11.6 9.8" fill="none" stroke="#222" stroke-width="1.5"/><path d="M2.2 .8 V4.6 H6 Z M11.8 13.2 V9.4 H8 Z" fill="#222"/></svg>Återställa data</button>
<button class="mb g" style="left:666.6px;top:334.6px;width:60px;height:22.2px;font:inherit"><svg class="ic" width="16.4" height="16" viewBox="0 0 14 14" style="margin-right:4px;margin-left:-2px"><path d="M.8 .8 H10.6 L13.2 3.4 V13.2 H.8 Z M3.4 .8 V4.6 H9.6 V.8 M3 13.2 V8 H11 V13.2" fill="none" stroke="#eaf5e6" stroke-width="1.15"/></svg>Spara</button>
<button class="mb g" style="left:733px;top:334.6px;width:104px;height:22.2px;font:inherit"><svg class="ic" width="16.4" height="16" viewBox="0 0 14 14" style="margin-right:4px;margin-left:-2px"><path d="M.8 .8 H10.6 L13.2 3.4 V13.2 H.8 Z M3.4 .8 V4.6 H9.6 V.8 M3 13.2 V8 H11 V13.2" fill="none" stroke="#eaf5e6" stroke-width="1.15"/></svg>Spara och stäng</button>
</div>
</body></html>
